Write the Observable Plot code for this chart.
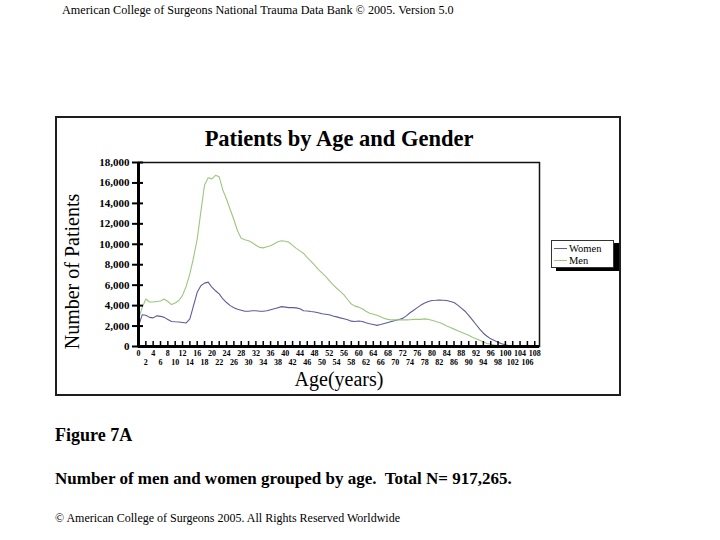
<!DOCTYPE html>
<html>
<head>
<meta charset="utf-8">
<script src="https://cdn.jsdelivr.net/npm/d3@7"></script>
<script src="https://cdn.jsdelivr.net/npm/@observablehq/plot@0.6"></script>
<style>
  html, body { margin: 0; padding: 0; background: #fff; }
  #page { position: relative; width: 720px; height: 540px; overflow: hidden; font-family: "Liberation Serif", "Times New Roman", serif; color: #000; }
  .abs { position: absolute; white-space: pre; }
  #frameBox { position: absolute; left: 55px; top: 116px; width: 566px; height: 280px; box-sizing: border-box; border: 2px solid #1e1e1e; pointer-events: none; }
  #chart { position: absolute; left: 55px; top: 116px; }
  #legend { position: absolute; left: 551px; top: 240px; width: 63px; height: 28px; box-sizing: border-box; border: 1px solid #333; background: #fff; box-shadow: 5px 3px 0 #000; font-size: 10.5px; }
  .lg { position: absolute; left: 2px; height: 12px; display: flex; align-items: center; }
  .lg span.sw { display: inline-block; width: 13px; height: 0; border-top: 1px solid; margin-right: 2px; }
</style>
</head>
<body>
<div id="page">
  <div class="abs" style="left:62px; top:3px; font-size:12.2px;">American College of Surgeons National Trauma Data Bank © 2005. Version 5.0</div>
  <div id="chart"></div>
  <div id="frameBox"></div>
  <div id="legend">
    <div class="lg" style="top:1px;"><span class="sw" style="border-color:#5c5c9c"></span>Women</div>
    <div class="lg" style="top:13px;"><span class="sw" style="border-color:#9cc77f"></span>Men</div>
  </div>
  <div class="abs" style="left:55px; top:425px; font-size:18px; font-weight:bold;">Figure 7A</div>
  <div class="abs" style="left:55px; top:469px; font-size:17px; font-weight:bold;">Number of men and women grouped by age.  Total N= 917,265.</div>
  <div class="abs" style="left:55px; top:511px; font-size:12px;">© American College of Surgeons 2005. All Rights Reserved Worldwide</div>
</div>
<script>
// ---- data ----
const ages = [0,1,2,3,4,5,6,7,8,9,10,11,12,13,14,15,16,17,18,19,20,21,22,23,24,25,26,27,28,29,30,31,32,33,34,35,36,37,38,39,40,41,42,43,44,45,46,47,48,49,50,51,52,53,54,55,56,57,58,59,60,61,62,63,64,65,66,67,68,69,70,71,72,73,74,75,76,77,78,79,80,81,82,83,84,85,86,87,88,89,90,91,92,93,94,95,96,97,98,99,100,101,102,103,104];

const men = [2700,3800,4650,4350,4350,4400,4450,4650,4400,4100,4250,4500,5000,5900,7100,8700,10500,13200,15800,16500,16400,16750,16600,15300,14400,13400,12400,11300,10600,10450,10350,10150,9900,9700,9650,9750,9850,10050,10250,10350,10300,10200,9900,9600,9350,9100,8700,8350,7950,7550,7200,6850,6450,6050,5700,5400,5050,4600,4150,3950,3850,3700,3450,3250,3150,3050,2900,2750,2650,2600,2600,2600,2600,2600,2620,2650,2650,2650,2700,2650,2560,2450,2350,2200,2000,1850,1700,1550,1400,1250,1100,900,750,600,450,300,220,150,100,60,30,15,10,5,0];

const women = [2000,3100,3050,2850,2800,3000,2950,2850,2650,2450,2420,2400,2350,2300,2700,4000,5300,5950,6200,6300,5800,5450,5150,4650,4300,4000,3800,3650,3550,3450,3450,3500,3500,3450,3450,3500,3600,3700,3800,3900,3850,3800,3800,3780,3700,3500,3480,3420,3380,3300,3200,3150,3100,2980,2900,2800,2720,2620,2480,2450,2500,2450,2320,2220,2150,2070,2150,2250,2350,2450,2550,2650,2750,3000,3300,3550,3800,4050,4250,4400,4500,4520,4550,4530,4500,4400,4300,4050,3750,3450,3050,2600,2150,1700,1300,1000,750,580,420,270,160,80,40,10,0];

const yTicks = [0,2000,4000,6000,8000,10000,12000,14000,16000,18000];
const xTicksTop = [0,4,8,12,16,20,24,28,32,36,40,44,48,52,56,60,64,68,72,76,80,84,88,92,96,100,104,108];
const xTicksBottom = [2,6,10,14,18,22,26,30,34,38,42,46,50,54,58,62,66,70,74,78,82,86,90,94,98,102,106];
const xTicksAll = xTicksTop.concat(xTicksBottom);

const seriesNames = ["Women", "Men"];
const seriesColors = ["#5c5c9c", "#9cc77f"];

const rows = [];
ages.forEach((a, i) => {
  rows.push({age: a, value: women[i], series: "Women"});
  rows.push({age: a, value: men[i], series: "Men"});
});

const font = "Liberation Serif, Times New Roman, serif";

const chart = Plot.plot({
  width: 566,
  height: 280,
  marginLeft: 83,
  marginRight: 82,
  marginTop: 46,
  marginBottom: 50,
  style: {fontFamily: font, background: "transparent", color: "#000"},
  x: {domain: [0, 109.3]},
  y: {domain: [0, 18000]},
  color: {domain: seriesNames, range: seriesColors},
  marks: [
    Plot.frame({stroke: "#111", strokeWidth: 1.5}),
    Plot.line(rows, {x: "age", y: "value", z: "series", stroke: "series", strokeWidth: 1.1}),
    Plot.ruleX([0], {stroke: "#000", strokeWidth: 3}),
    Plot.ruleY([0], {stroke: "#000", strokeWidth: 3}),
    // y axis (ticks crossing the axis line)
    Plot.axisY({ticks: yTicks, tickSize: 6, tickPadding: 3, tickFormat: d3.format(","), label: null, fontSize: 11, fontWeight: "bold", strokeWidth: 2}),
    Plot.axisY({ticks: yTicks, tickSize: -5, tickFormat: () => "", label: null, strokeWidth: 2}),
    // x axis tick marks
    Plot.axisX({ticks: xTicksAll, tickSize: 2, tickFormat: () => "", label: null, strokeWidth: 1.5}),
    Plot.axisX({ticks: xTicksAll, tickSize: -5, tickFormat: () => "", label: null, strokeWidth: 1.5}),
    // x labels in two rows
    Plot.axisX({ticks: xTicksTop, tickSize: 0, tickPadding: 4, label: null, fontSize: 8, fontWeight: "bold"}),
    Plot.axisX({ticks: xTicksBottom, tickSize: 0, tickPadding: 13, label: null, fontSize: 8, fontWeight: "bold"}),
    // titles
    Plot.text(["Patients by Age and Gender"], {frameAnchor: "top", lineAnchor: "bottom", dy: -17, fontSize: 22.5, fontWeight: "bold"}),
    Plot.text(["Number of Patients"], {frameAnchor: "left", textAnchor: "middle", lineAnchor: "middle", rotate: -90, dx: -66, dy: 17, fontSize: 20}),
    Plot.text(["Age(years)"], {frameAnchor: "bottom", lineAnchor: "bottom", dy: 39, fontSize: 20})
  ]
});
document.getElementById("chart").appendChild(chart);
</script>
</body>
</html>
